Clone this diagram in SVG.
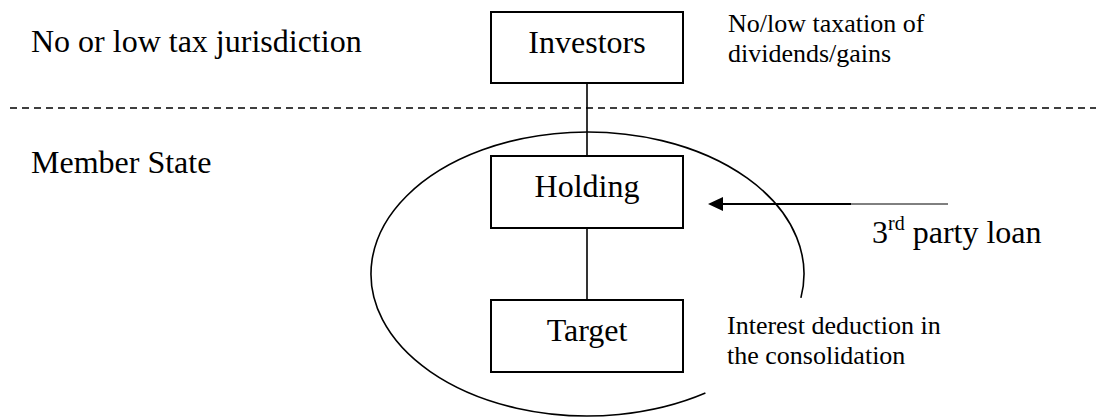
<svg xmlns="http://www.w3.org/2000/svg" width="1100" height="417" viewBox="0 0 1100 417">
<style>
text{font-family:"Liberation Serif","Times New Roman",serif;fill:#000}
.lbl{font-size:32px}
.note{font-size:26px}
.box{fill:#fff;stroke:#000;stroke-width:2}
.ln{stroke:#000;stroke-width:1.6;fill:none}
</style>
<rect width="1100" height="417" fill="#fff"/>
<text class="lbl" x="31" y="52">No or low tax jurisdiction</text>
<text class="lbl" x="31" y="173">Member State</text>
<line x1="10" y1="108" x2="1096" y2="108" stroke="#000" stroke-width="1.6" stroke-dasharray="7 5"/>
<path class="ln" d="M705.4 393.1 A216.5 142 0 1 1 800.9 297.9"/>
<g id="connectors">
<line class="ln" x1="587" y1="83" x2="587" y2="156"/>
<line class="ln" x1="587" y1="228" x2="587" y2="300"/>
<line x1="723" y1="204" x2="851" y2="204" stroke="#000" stroke-width="2"/>
<line x1="851" y1="204" x2="948" y2="204" stroke="#000" stroke-width="1"/>
<path d="M708 204 L723 197 L723 211 Z" fill="#000"/>
</g>
<g id="investors">
<rect class="box" x="491" y="12" width="192" height="71"/>
<text class="lbl" x="587" y="53" text-anchor="middle">Investors</text>
</g>
<g id="holding">
<rect class="box" x="491" y="156" width="192" height="72"/>
<text class="lbl" x="587" y="197" text-anchor="middle">Holding</text>
</g>
<g id="target">
<rect class="box" x="491" y="300" width="192" height="72"/>
<text class="lbl" x="587" y="341" text-anchor="middle">Target</text>
</g>
<text class="note" x="728" y="32">No/low taxation of</text>
<text class="note" x="728" y="62">dividends/gains</text>
<text class="lbl" x="872" y="243">3<tspan font-size="20" dy="-13">rd</tspan><tspan dy="13"> party loan</tspan></text>
<text class="note" x="727" y="334">Interest deduction in</text>
<text class="note" x="727" y="364">the consolidation</text>
</svg>
